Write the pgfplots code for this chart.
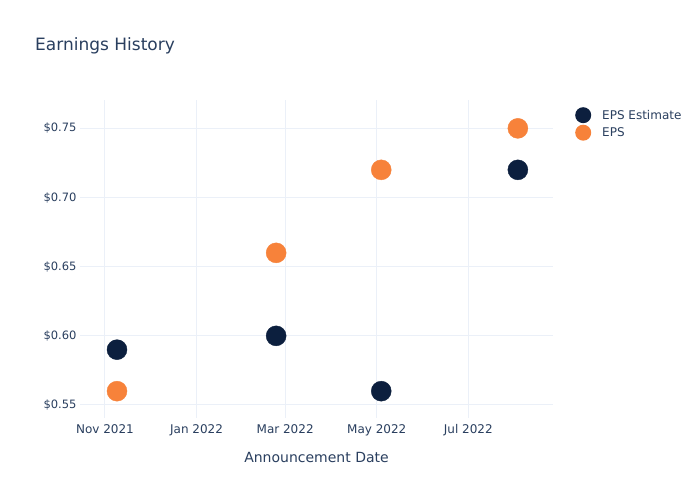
\documentclass[border=0pt]{standalone}
\usepackage{pgfplots}
\pgfplotsset{compat=1.18}
\usepackage{fontspec}
\setmainfont{DejaVu Sans}
\definecolor{txt}{HTML}{2A3F5F}
\definecolor{navy}{HTML}{0C1F3E}
\definecolor{org}{HTML}{F7823A}
\definecolor{grd}{HTML}{EBF0F8}
\begin{document}
\begin{tikzpicture}
\useasboundingbox[fill=white] (0,0) rectangle (700bp,500bp);
\node[anchor=west, text=txt, font=\fontsize{17bp}{20bp}\selectfont, inner sep=0pt] at (35bp,454bp) {Earnings History};
\begin{axis}[
  at={(80bp,82bp)}, anchor=south west,
  scale only axis, width=473bp, height=318bp,
  xmin=-16.65, xmax=298.4,
  ymin=0.5406, ymax=0.7705,
  xtick={0,61,120,181,242},
  xticklabels={Nov 2021,Jan 2022,Mar 2022,May 2022,Jul 2022},
  ytick={0.55,0.60,0.65,0.70,0.75},
  /pgf/number format/assume math mode=true,
  yticklabel={\$\pgfmathprintnumber[fixed,fixed zerofill,precision=2]{\tick}},
  grid=major,
  major grid style={grd, line width=1bp},
  axis line style={draw=none},
  tick style={draw=none},
  ticklabel style={text=txt, font=\fontsize{11.5bp}{13bp}\selectfont},
  xticklabel style={yshift=-3bp, font=\fontsize{12bp}{14bp}\selectfont},
  xlabel={Announcement Date},
  xlabel style={text=txt, font=\fontsize{14bp}{16bp}\selectfont, yshift=-9bp},
  legend style={at={(1.0423,0.978)}, anchor=north west, draw=none, fill=none,
    font=\fontsize{12bp}{14bp}\selectfont, text=txt, cells={anchor=west},
    row sep=1.5bp, inner sep=0pt},
  legend image code/.code={\path[draw=none,fill=none] (0bp,0bp) -- (27bp,0bp); \fill[#1, draw=none] (10bp,0bp) circle (8bp);},
  clip=false,
]
\addplot[only marks, mark=*, mark size=10bp, color=navy, mark options={draw=none, fill=navy}]
  coordinates {(8,0.59) (114,0.60) (184,0.56) (275,0.72)};
\addlegendentry{EPS Estimate}
\addplot[only marks, mark=*, mark size=10bp, color=org, mark options={draw=none, fill=org}]
  coordinates {(8,0.56) (114,0.66) (184,0.72) (275,0.75)};
\addlegendentry{EPS}
\end{axis}
\end{tikzpicture}
\end{document}
